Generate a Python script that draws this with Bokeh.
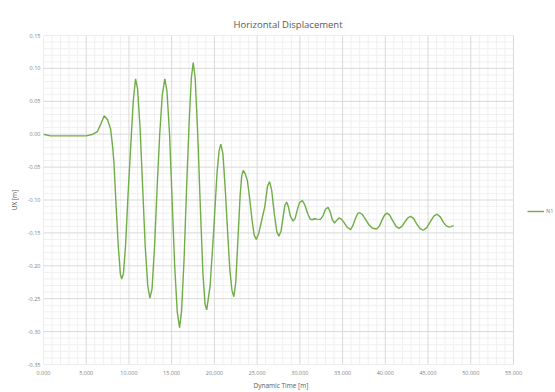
from bokeh.plotting import figure
from bokeh.models import FixedTicker, NumeralTickFormatter, Legend, LegendItem, ColumnDataSource, Title
from bokeh.embed import file_html
from bokeh.resources import INLINE

series_name = "N1"
time_s = [0.0, 0.8, 5.0, 5.8, 6.3, 6.7, 7.1, 7.5, 7.85, 8.1, 8.25, 8.5, 8.75, 9.0, 9.15, 9.35, 9.6, 9.9,
          10.2, 10.5, 10.77, 11.0, 11.3, 11.6, 11.9, 12.2, 12.45, 12.7, 13.0, 13.3, 13.6, 13.9,
          14.2, 14.45, 14.75, 15.05, 15.35, 15.65, 15.92, 16.15, 16.45, 16.75, 17.05, 17.3,
          17.52, 17.75, 18.05, 18.35, 18.65, 18.9, 19.1, 19.5, 19.9, 20.3, 20.55, 20.75,
          21.0, 21.3, 21.55, 21.8, 22.05, 22.27, 22.5, 22.75, 23.0, 23.2, 23.37,
          23.6, 23.85, 24.1, 24.4, 24.65, 24.9, 25.2, 25.6, 25.9, 26.2, 26.45, 26.7, 27.0,
          27.3, 27.55, 27.8, 28.05, 28.25, 28.45, 28.65, 28.9, 29.2, 29.45, 29.7, 29.95,
          30.3, 30.6, 30.9, 31.2, 31.45, 31.7, 32.0, 32.4, 32.7, 33.0, 33.3, 33.55, 33.8,
          34.05, 34.3, 34.6, 34.85, 35.1, 35.5, 35.93, 36.2, 36.5, 36.75, 36.98, 37.3, 37.7,
          38.1, 38.5, 38.97, 39.3, 39.6, 39.9, 40.2, 40.5, 40.9, 41.25, 41.6, 41.95, 42.3,
          42.65, 42.95, 43.3, 43.7, 44.05, 44.43, 44.85, 45.3, 45.7, 46.07, 46.45, 46.8,
          47.1, 47.4, 47.7, 48.0]
ux_m = [0.0, -0.0025, -0.0025, 0.0, 0.004, 0.015, 0.028, 0.022, 0.008, -0.02, -0.045, -0.11, -0.17, -0.213, -0.22, -0.212, -0.17, -0.09,
        -0.02, 0.05, 0.084, 0.07, 0.01, -0.08, -0.17, -0.23, -0.249, -0.235, -0.17, -0.08, 0.0, 0.06,
        0.084, 0.065, 0.0, -0.1, -0.2, -0.27, -0.294, -0.27, -0.19, -0.08, 0.02, 0.085,
        0.109, 0.085, 0.0, -0.11, -0.21, -0.258, -0.267, -0.23, -0.15, -0.06, -0.025, -0.015,
        -0.03, -0.09, -0.15, -0.205, -0.237, -0.247, -0.225, -0.16, -0.095, -0.063, -0.055,
        -0.06, -0.07, -0.095, -0.13, -0.153, -0.16, -0.15, -0.127, -0.11, -0.08, -0.072, -0.085, -0.12,
        -0.148, -0.155, -0.147, -0.125, -0.108, -0.103, -0.110, -0.125, -0.132, -0.128, -0.115, -0.104,
        -0.101, -0.108, -0.120, -0.129, -0.130, -0.1285, -0.129, -0.1295, -0.124, -0.114, -0.111, -0.118, -0.130,
        -0.135, -0.131, -0.127, -0.129, -0.133, -0.141, -0.145, -0.139, -0.128, -0.121, -0.119, -0.122, -0.130,
        -0.138, -0.143, -0.144, -0.140, -0.131, -0.123, -0.120, -0.123, -0.132, -0.140, -0.143, -0.140, -0.133,
        -0.127, -0.125, -0.128, -0.137, -0.143, -0.146, -0.142, -0.132, -0.124, -0.1216, -0.126, -0.134,
        -0.139, -0.141, -0.1405, -0.139]
x_ticks = [0, 5, 10, 15, 20, 25, 30, 35, 40, 45, 50, 55]
y_ticks = [-0.35, -0.30, -0.25, -0.20, -0.15, -0.10, -0.05, 0.0, 0.05, 0.10, 0.15]
x_minor = [float(i) for i in range(0, 56) if i % 5]
y_minor = [round(-0.35 + 0.01 * i, 2) for i in range(51) if i % 5]

FONT = "Open Sans"
TXT = "#595959"
TICK = "#7f7f7f"

# frame spans to the right edge so the legend can sit beside the 0..55 plot area
x_end = 55 * 512 / 470
p = figure(width=555, height=392, output_backend="svg", toolbar_location=None,
           x_range=(0, x_end), y_range=(-0.35, 0.15),
           min_border_left=43, min_border_right=0, min_border_top=35, min_border_bottom=28)
p.title = Title(text="Horizontal  Displacement", align="left", offset=190,
                text_font=FONT, text_font_style="normal", text_font_size="9.5px",
                text_color=TXT, standoff=9)

x0, x1 = x_ticks[0], x_ticks[-1]
y0, y1 = y_ticks[0], y_ticks[-1]
p.segment(x0=x_minor, x1=x_minor, y0=[y0] * len(x_minor), y1=[y1] * len(x_minor),
          line_color="#f0f0f0", line_width=1)
p.segment(x0=[x0] * len(y_minor), x1=[x1] * len(y_minor), y0=y_minor, y1=y_minor,
          line_color="#f0f0f0", line_width=1)
p.segment(x0=x_ticks, x1=x_ticks, y0=[y0] * len(x_ticks), y1=[y1] * len(x_ticks),
          line_color="#d9d9d9", line_width=1)
p.segment(x0=[x0] * len(y_ticks), x1=[x1] * len(y_ticks), y0=y_ticks, y1=y_ticks,
          line_color="#d9d9d9", line_width=1)

src = ColumnDataSource(dict(t=time_s, v=ux_m))
r = p.line("t", "v", source=src, line_color="#70ad47", line_width=1.4)

p.xaxis.ticker = FixedTicker(ticks=x_ticks)
p.yaxis.ticker = FixedTicker(ticks=y_ticks)
p.xaxis.formatter = NumeralTickFormatter(format="0.000")
p.yaxis.formatter = NumeralTickFormatter(format="0.00")
for ax in (p.xaxis, p.yaxis):
    ax.axis_line_color = None
    ax.major_tick_line_color = None
    ax.minor_tick_line_color = None
    ax.major_tick_out = 0
    ax.major_tick_in = 0
    ax.minor_tick_out = 0
    ax.minor_tick_in = 0
    ax.major_label_text_font = FONT
    ax.major_label_text_font_size = "5.5px"
    ax.major_label_text_color = TICK
p.xaxis.major_label_standoff = 6
p.yaxis.major_label_standoff = 3
p.yaxis.axis_label = "UX [m]"
p.yaxis.axis_label_text_font = FONT
p.yaxis.axis_label_text_font_size = "6.5px"
p.yaxis.axis_label_text_color = TXT
p.yaxis.axis_label_text_font_style = "normal"
p.yaxis.axis_label_standoff = 6
p.add_layout(Title(text="Dynamic Time [m]", align="left", offset=210, text_font=FONT,
                   text_font_style="normal", text_font_size="6.5px", text_color=TXT,
                   standoff=2), "below")

p.grid.visible = False
p.outline_line_color = None

legend = Legend(items=[LegendItem(label=series_name, renderers=[r])],
                location=(484, 149), background_fill_alpha=0, border_line_color=None,
                label_text_font=FONT, label_text_font_size="5.5px", label_text_color=TICK,
                glyph_width=17, glyph_height=8, label_height=8, label_standoff=2,
                padding=0, margin=0)
p.add_layout(legend, "center")

open("out.html", "w").write(file_html(p, INLINE))
